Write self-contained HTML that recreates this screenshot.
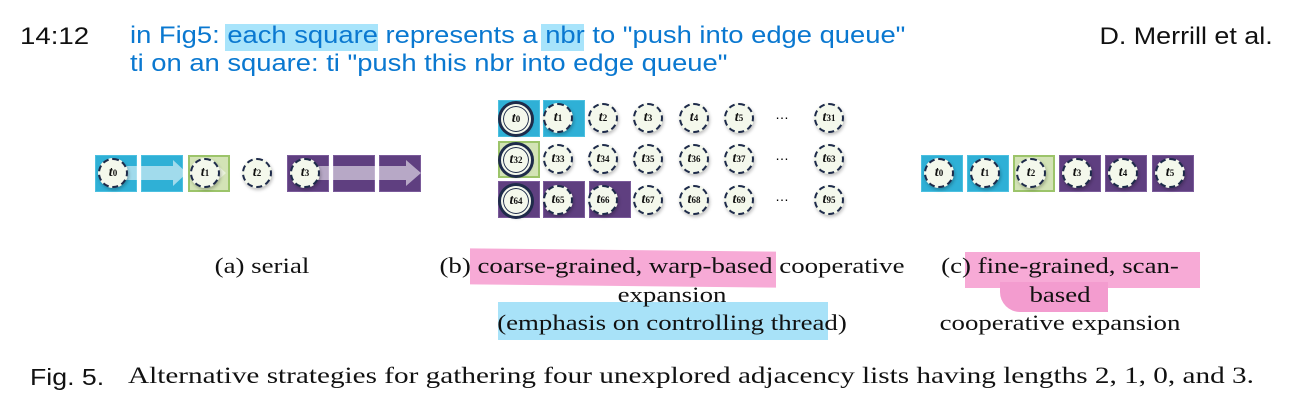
<!DOCTYPE html>
<html><head><meta charset="utf-8"><style>
body{margin:0;width:1295px;height:403px;background:#fff;position:relative;overflow:hidden;font-family:"Liberation Sans",sans-serif}
.a{position:absolute}
.sq{position:absolute;width:42px;height:37px;box-sizing:border-box}
.cy{background:#2fb0d6;border:1px solid #4cc0e0}
.gr{background:#d3e3b6;border:2px solid #9cc46a}
.pu{background:#5f3f80;border:1px solid #7a5a9a}
.c{position:absolute;width:30px;height:30px;border-radius:50%;box-sizing:border-box;border:2px dashed #1e2b4a;background:#f4f8ec;font:italic bold 14px "Liberation Serif",serif;color:#111;display:flex;align-items:center;justify-content:center;box-shadow:1px 2px 3px rgba(0,0,0,.25)}
.c sub{font-size:9px;font-style:normal}
.ctl{border:2px solid #f4f8ec;box-shadow:0 0 0 1px #1e2b4a inset,0 0 0 3px #1e2b4a,1px 2px 3px rgba(0,0,0,.3)}
.cap{position:absolute;font:22px "Liberation Serif",serif;color:#111;text-align:center;line-height:28.5px;transform:scaleX(1.22);transform-origin:center top}
.hl{position:absolute}
.blue{color:#0a78d0;font-size:24px;position:absolute;left:130px;line-height:28px;transform:scaleX(1.14);transform-origin:left top;white-space:nowrap}
</style></head><body>
<div class="a" style="left:20px;top:23px;font-size:24px;color:#111;transform:scaleX(1.15);transform-origin:left top">14:12</div>
<div class="hl" style="left:225px;top:24px;width:153px;height:27px;background:#a8e4fb"></div>
<div class="hl" style="left:541px;top:24px;width:43px;height:27px;background:#a8e4fb"></div>
<div class="blue" style="top:22px">in Fig5: each square represents a nbr to "push into edge queue"</div>
<div class="blue" style="top:50px">ti on an square: ti "push this nbr into edge queue"</div>
<div class="a" style="right:22px;top:23px;font-size:24px;color:#111;transform:scaleX(1.12);transform-origin:right top">D. Merrill et al.</div>

<!-- (a) -->
<div class="sq cy" style="left:95px;top:155px"></div>
<div class="sq cy" style="left:141px;top:155px"></div>
<div class="sq gr" style="left:188px;top:155px"></div>
<div class="sq pu" style="left:287px;top:155px"></div>
<div class="sq pu" style="left:333px;top:155px"></div>
<div class="sq pu" style="left:379px;top:155px"></div>
<svg class="a" style="left:0;top:0" width="1295" height="403">
<polygon points="110,166 173,166 173,160 187,173 173,186 173,180 110,180" fill="rgba(255,255,255,.55)"/>
<polygon points="205,166 212,166 212,160 226,173 212,186 212,180 205,180" fill="rgba(255,255,255,.5)"/>
<polygon points="305,166 406,166 406,160 421,173 406,186 406,180 305,180" fill="rgba(255,255,255,.55)"/>
</svg>
<div class="c" style="left:98px;top:158px">t<sub>0</sub></div>
<div class="c" style="left:190px;top:158px">t<sub>1</sub></div>
<div class="c" style="left:242px;top:158px">t<sub>2</sub></div>
<div class="c" style="left:290px;top:158px">t<sub>3</sub></div>

<!-- (b) -->
<div class="sq cy" style="left:498px;top:100px"></div>
<div class="sq cy" style="left:543px;top:100px"></div>
<div class="sq gr" style="left:498px;top:141px"></div>
<div class="sq pu" style="left:498px;top:181px"></div>
<div class="sq pu" style="left:543px;top:181px"></div>
<div class="sq pu" style="left:589px;top:181px"></div>
<div class="c ctl" style="left:501px;top:104px">t<sub>0</sub></div>
<div class="c" style="left:543px;top:103px">t<sub>1</sub></div>
<div class="c" style="left:588px;top:103px">t<sub>2</sub></div>
<div class="c" style="left:633px;top:103px">t<sub>3</sub></div>
<div class="c" style="left:679px;top:103px">t<sub>4</sub></div>
<div class="c" style="left:724px;top:103px">t<sub>5</sub></div>
<div class="a" style="left:775px;top:106px;font-size:14px">…</div>
<div class="c" style="left:814px;top:103px">t<sub>31</sub></div>
<div class="c ctl" style="left:501px;top:145px">t<sub>32</sub></div>
<div class="c" style="left:543px;top:144px">t<sub>33</sub></div>
<div class="c" style="left:588px;top:144px">t<sub>34</sub></div>
<div class="c" style="left:633px;top:144px">t<sub>35</sub></div>
<div class="c" style="left:679px;top:144px">t<sub>36</sub></div>
<div class="c" style="left:724px;top:144px">t<sub>37</sub></div>
<div class="a" style="left:775px;top:147px;font-size:14px">…</div>
<div class="c" style="left:814px;top:144px">t<sub>63</sub></div>
<div class="c ctl" style="left:501px;top:186px">t<sub>64</sub></div>
<div class="c" style="left:543px;top:185px">t<sub>65</sub></div>
<div class="c" style="left:588px;top:185px">t<sub>66</sub></div>
<div class="c" style="left:633px;top:185px">t<sub>67</sub></div>
<div class="c" style="left:679px;top:185px">t<sub>68</sub></div>
<div class="c" style="left:724px;top:185px">t<sub>69</sub></div>
<div class="a" style="left:775px;top:188px;font-size:14px">…</div>
<div class="c" style="left:814px;top:185px">t<sub>95</sub></div>

<!-- (c) -->
<div class="sq cy" style="left:921px;top:155px"></div>
<div class="sq cy" style="left:967px;top:155px"></div>
<div class="sq gr" style="left:1013px;top:155px"></div>
<div class="sq pu" style="left:1059px;top:155px"></div>
<div class="sq pu" style="left:1105px;top:155px"></div>
<div class="sq pu" style="left:1152px;top:155px"></div>
<div class="c" style="left:924px;top:158px">t<sub>0</sub></div>
<div class="c" style="left:970px;top:158px">t<sub>1</sub></div>
<div class="c" style="left:1016px;top:158px">t<sub>2</sub></div>
<div class="c" style="left:1062px;top:158px">t<sub>3</sub></div>
<div class="c" style="left:1108px;top:158px">t<sub>4</sub></div>
<div class="c" style="left:1155px;top:158px">t<sub>5</sub></div>

<!-- highlights -->
<div class="hl" style="left:470px;top:250px;width:306px;height:36px;background:#f7aad6;transform:skewY(0.6deg)"></div>
<div class="hl" style="left:498px;top:302px;width:330px;height:38px;background:#a8e2f8"></div>
<div class="hl" style="left:965px;top:252px;width:235px;height:36px;background:#f7aad6"></div>
<div class="hl" style="left:1000px;top:282px;width:108px;height:30px;background:#f39ccf;border-radius:0 0 0 20px"></div>

<div class="cap" style="left:162px;top:252px;width:200px">(a) serial</div>
<div class="cap" style="left:372px;top:252px;width:600px">(b) coarse-grained, warp-based cooperative<br>expansion<br>(emphasis on controlling thread)</div>
<div class="cap" style="left:910px;top:252px;width:300px">(c) fine-grained, scan-<br>based<br>cooperative expansion</div>

<div class="a" style="left:30px;top:364px;font-size:23px;color:#111;white-space:nowrap;transform:scaleX(1.16);transform-origin:left top">Fig. 5.</div>
<div class="a" style="left:128px;top:363px;font:23px 'Liberation Serif',serif;color:#111;white-space:nowrap;transform:scaleX(1.27);transform-origin:left top">Alternative strategies for gathering four unexplored adjacency lists having lengths 2, 1, 0, and 3.</div>
</body></html>
